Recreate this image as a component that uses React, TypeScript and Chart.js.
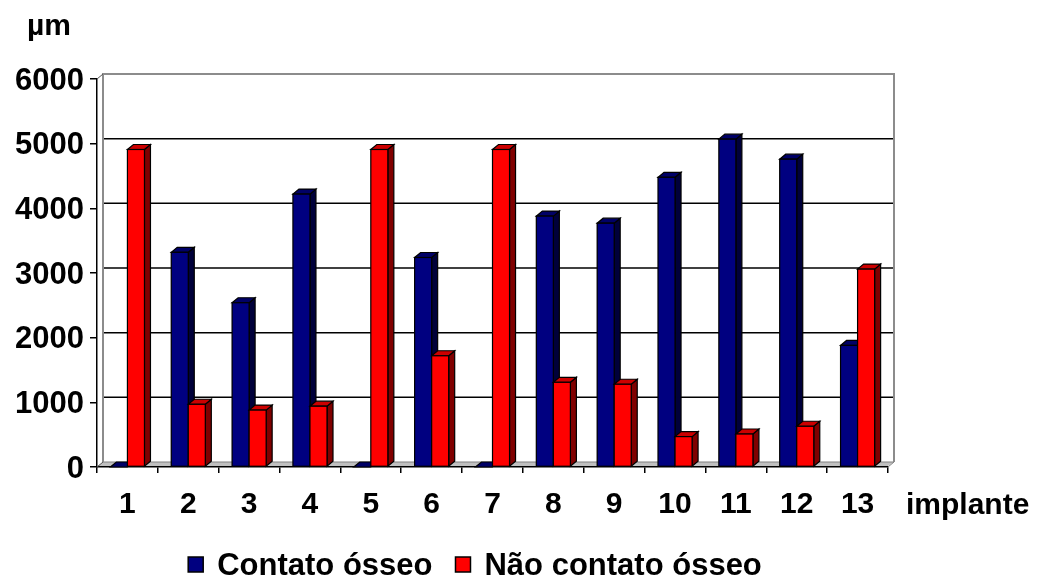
import React, { useEffect, useRef } from "react";
import { Chart, registerables } from "chart.js";

Chart.register(...registerables);

// ---- data ----
const categories = ["1", "2", "3", "4", "5", "6", "7", "8", "9", "10", "11", "12", "13"];
const contatoOsseo = [0, 3320, 2540, 4220, 0, 3240, 0, 3880, 3770, 4480, 5070, 4760, 1880];
const naoContatoOsseo = [4910, 970, 880, 940, 4910, 1720, 4910, 1310, 1280, 470, 510, 630, 3060];
const yTickValues = [0, 1000, 2000, 3000, 4000, 5000, 6000];
const yTickLabels = ["0", "1000", "2000", "3000", "4000", "5000", "6000"];
const seriesLabels = ["Contato ósseo", "Não contato ósseo"];
const yUnitLabel = "µm";
const xAxisLabel = "implante";

// ---- styles ----
const FONT_FAMILY = "'Liberation Sans', Arial, Helvetica, sans-serif";
const FRONT = ["#000080", "#ff0000"];
const TOPC = ["#000066", "#cc0000"];
const SIDE = ["#00003a", "#800000"];
const DX = 6;
const DY = 5;

const threeDPlugin = {
  id: "threeD",
  beforeDatasetsDraw(chart: any) {
    const { ctx, chartArea } = chart;
    const { left, right, top, bottom } = chartArea;
    const y = chart.scales.y;
    ctx.save();
    // floor
    ctx.fillStyle = "#c0c0c0";
    ctx.beginPath();
    ctx.moveTo(left + 1, bottom - 1);
    ctx.lineTo(right, bottom - 1);
    ctx.lineTo(right + DX, bottom - DY);
    ctx.lineTo(left + DX, bottom - DY);
    ctx.closePath();
    ctx.fill();
    ctx.strokeStyle = "#808080";
    ctx.lineWidth = 1;
    ctx.beginPath();
    ctx.moveTo(left + DX, bottom - DY);
    ctx.lineTo(right + DX, bottom - DY);
    ctx.lineTo(right, bottom);
    ctx.stroke();
    // gridlines on back wall
    ctx.strokeStyle = "#000";
    ctx.lineWidth = 1.5;
    for (const v of yTickValues) {
      if (v === yTickValues[0] || v === yTickValues[yTickValues.length - 1]) continue;
      const py = y.getPixelForValue(v) - DY;
      ctx.beginPath();
      ctx.moveTo(left + DX, py);
      ctx.lineTo(right + DX, py);
      ctx.stroke();
    }
    // walls
    ctx.strokeStyle = "#8c8c8c";
    ctx.lineWidth = 2;
    ctx.beginPath();
    ctx.moveTo(left + DX, bottom - DY);
    ctx.lineTo(left + DX, top - DY);
    ctx.lineTo(right + DX, top - DY);
    ctx.lineTo(right + DX, bottom - DY);
    ctx.stroke();
    ctx.lineWidth = 1;
    ctx.strokeStyle = "#555";
    ctx.beginPath();
    ctx.moveTo(left, top);
    ctx.lineTo(left + DX, top - DY);
    ctx.moveTo(left, bottom);
    ctx.lineTo(left + DX, bottom - DY);
    ctx.stroke();
    ctx.restore();
  },
  afterDatasetsDraw(chart: any) {
    const { ctx } = chart;
    const n = chart.data.labels.length;
    const metas = chart.data.datasets.map((_: any, i: number) => chart.getDatasetMeta(i));
    ctx.save();
    ctx.lineWidth = 1.2;
    ctx.strokeStyle = "#000";
    ctx.lineJoin = "miter";
    for (let i = 0; i < n; i++) {
      for (let d = 0; d < metas.length; d++) {
        const el = metas[d].data[i];
        if (!el) continue;
        const p = el.getProps(["x", "y", "base", "width"], true);
        const x0 = p.x - p.width / 2;
        const x1 = p.x + p.width / 2;
        const t = Math.min(p.y, p.base);
        const b = Math.max(p.y, p.base);
        // side face
        if (b - t > 0.5) {
          ctx.fillStyle = SIDE[d];
          ctx.beginPath();
          ctx.moveTo(x1, t);
          ctx.lineTo(x1 + DX, t - DY);
          ctx.lineTo(x1 + DX, b - DY);
          ctx.lineTo(x1, b);
          ctx.closePath();
          ctx.fill();
          ctx.stroke();
        }
        // top face
        ctx.fillStyle = TOPC[d];
        ctx.beginPath();
        ctx.moveTo(x0, t);
        ctx.lineTo(x1, t);
        ctx.lineTo(x1 + DX, t - DY);
        ctx.lineTo(x0 + DX, t - DY);
        ctx.closePath();
        ctx.fill();
        ctx.stroke();
        // front face
        if (b - t > 0.5) {
          ctx.fillStyle = FRONT[d];
          ctx.fillRect(x0, t, x1 - x0, b - t);
          ctx.strokeRect(x0, t, x1 - x0, b - t);
        }
      }
    }
    ctx.restore();
  },
  afterDraw(chart: any) {
    const { ctx } = chart;
    ctx.save();
    ctx.fillStyle = "#000";
    ctx.textBaseline = "alphabetic";
    ctx.textAlign = "left";
    ctx.font = `bold 30px ${FONT_FAMILY}`;
    ctx.fillText(yUnitLabel, 27, 35);
    ctx.fillText(xAxisLabel, 906, 514);
    // legend
    ctx.font = `bold 31px ${FONT_FAMILY}`;
    const box = 15;
    const gap = 14;
    const itemPad = 23;
    const widths = seriesLabels.map((s) => ctx.measureText(s).width);
    const total = widths.reduce((a, w) => a + box + gap + w, 0) + itemPad * (seriesLabels.length - 1);
    let x = 475 - total / 2;
    const baseY = 575;
    seriesLabels.forEach((s, i) => {
      ctx.fillStyle = FRONT[i];
      ctx.fillRect(x, 557, box, box);
      ctx.strokeStyle = "#000";
      ctx.lineWidth = 1.5;
      ctx.strokeRect(x, 557, box, box);
      x += box + gap;
      ctx.fillStyle = "#000";
      ctx.fillText(s, x, baseY);
      x += widths[i] + itemPad;
    });
    ctx.restore();
  },
};

export default function App() {
  const ref = useRef<HTMLCanvasElement | null>(null);
  useEffect(() => {
    if (!ref.current) return;
    const chart = new Chart(ref.current, {
      type: "bar",
      data: {
        labels: categories,
        datasets: [
          {
            label: seriesLabels[0],
            data: contatoOsseo,
            backgroundColor: FRONT[0],
            borderColor: "#000",
            borderWidth: 1,
          },
          {
            label: seriesLabels[1],
            data: naoContatoOsseo,
            backgroundColor: FRONT[1],
            borderColor: "#000",
            borderWidth: 1,
          },
        ],
      },
      options: {
        responsive: false,
        animation: false,
        devicePixelRatio: 1,
        layout: { padding: { left: 0, top: 79, right: 152, bottom: 0 } },
        plugins: {
          legend: { display: false },
          tooltip: { enabled: false },
        },
        datasets: {
          bar: { categoryPercentage: 0.56, barPercentage: 1.0 },
        },
        scales: {
          x: {
            grid: {
              display: true,
              drawOnChartArea: false,
              drawTicks: true,
              tickLength: 6,
              color: "#000",
              lineWidth: 1.5,
              offset: true,
            },
            border: { display: true, color: "#000", width: 1.5 },
            ticks: {
              color: "#000",
              font: { family: FONT_FAMILY, size: 30, weight: "bold" },
              padding: 14,
              maxRotation: 0,
              autoSkip: false,
            },
            afterFit: (scale: any) => {
              scale.height = 581 - 467;
            },
          },
          y: {
            min: 0,
            max: 6000,
            afterBuildTicks: (scale: any) => {
              scale.ticks = yTickValues.map((v) => ({ value: v }));
            },
            grid: {
              display: true,
              drawOnChartArea: false,
              drawTicks: true,
              tickLength: 7,
              color: "#000",
              lineWidth: 1.5,
            },
            border: { display: true, color: "#000", width: 1.5 },
            ticks: {
              color: "#000",
              font: { family: FONT_FAMILY, size: 31, weight: "bold" },
              padding: 6,
              labelOffset: 2,
              callback: (value: any) => {
                const idx = yTickValues.indexOf(Number(value));
                return idx >= 0 ? yTickLabels[idx] : String(value);
              },
            },
            afterFit: (scale: any) => {
              scale.width = 97;
            },
          },
        },
      },
      plugins: [threeDPlugin],
    });
    return () => chart.destroy();
  }, []);
  return (
    <div style={{ position: "fixed", left: 0, top: 0, width: 1040, height: 581, background: "#fff" }}>
      <canvas ref={ref} width={1040} height={581} style={{ width: 1040, height: 581, display: "block" }} />
    </div>
  );
}
